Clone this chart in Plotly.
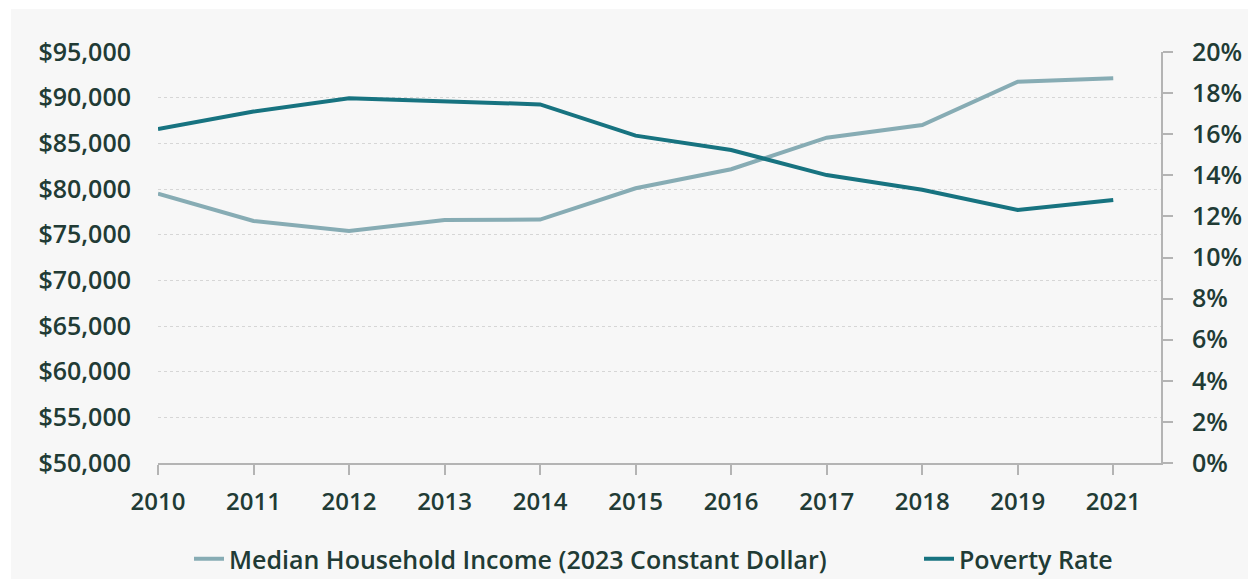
import plotly.graph_objects as go

years = ["2010", "2011", "2012", "2013", "2014", "2015", "2016", "2017", "2018", "2019", "2021"]
median_income = [79500, 76500, 75400, 76600, 76650, 80080, 82160, 85620, 87000, 91750, 92120]
poverty_rate = [16.25, 17.1, 17.75, 17.58, 17.45, 15.93, 15.23, 14.01, 13.3, 12.31, 12.8]

income_ticks = list(range(50000, 95001, 5000))
income_labels = [f"${v:,}" for v in income_ticks]
pov_ticks = list(range(0, 21, 2))
pov_labels = [f"{v}%" for v in pov_ticks]

TXT = "#213b35"
FONT = "Open Sans"

fig = go.Figure()
fig.add_trace(go.Scatter(
    x=years, y=median_income, mode="lines",
    name="Median Household Income (2023 Constant Dollar)",
    line=dict(color="#87acb4", width=4), yaxis="y", legend="legend"))
fig.add_trace(go.Scatter(
    x=years, y=poverty_rate, mode="lines",
    name="Poverty Rate",
    line=dict(color="#177380", width=4), yaxis="y2", legend="legend2"))

W, H = 1248, 579
L, R, T, B = 158, 87, 52, 116
pw, ph = W - L - R, H - T - B

legfont = dict(family=FONT, size=25, color=TXT, weight=600)
leg_y = (H - B - 536) / ph

fig.update_layout(
    template="none",
    width=W, height=H,
    margin=dict(l=L, r=R, t=T, b=B, pad=0, autoexpand=False),
    paper_bgcolor="white",
    plot_bgcolor="rgba(0,0,0,0)",
    font=dict(family=FONT, size=24, color=TXT, weight=600),
    showlegend=True,
    legend=dict(orientation="h", x=(189 - L) / pw, xanchor="left",
                y=leg_y, yanchor="top", bgcolor="rgba(0,0,0,0)", font=legfont),
    legend2=dict(orientation="h", x=(919 - L) / pw, xanchor="left",
                 y=leg_y, yanchor="top", bgcolor="rgba(0,0,0,0)", font=legfont),
    xaxis=dict(type="category", range=[0, 10.5], showgrid=False, automargin=False,
               showline=True, linecolor="#b4b4b4", linewidth=2, zeroline=False,
               ticks="outside", ticklen=10, tickcolor="#b4b4b4", tickwidth=1.5,
               ticklabelstandoff=6,
               tickfont=dict(family=FONT, size=24, color=TXT, weight=600)),
    yaxis=dict(range=[50000, 95000], tickvals=income_ticks, ticktext=income_labels,
               showgrid=True, gridcolor="#d6d6d6", griddash="dot", gridwidth=1,
               automargin=False,
               showline=False, zeroline=False, ticks="", ticklabelstandoff=26,
               tickfont=dict(family=FONT, size=25, color=TXT, weight=600)),
    yaxis2=dict(range=[0, 20], tickvals=pov_ticks, ticktext=pov_labels,
                overlaying="y", side="right", showgrid=False, zeroline=False,
                automargin=False,
                showline=True, linecolor="#b4b4b4", linewidth=2,
                ticks="outside", ticklen=10, tickcolor="#b4b4b4", tickwidth=1.5,
                ticklabelstandoff=14,
                tickfont=dict(family=FONT, size=25, color=TXT, weight=600)),
    shapes=[dict(type="rect", xref="paper", yref="paper", layer="below",
                 x0=(11 - L) / pw, x1=(W - L) / pw,
                 y0=(H - B - H) / ph, y1=(H - B - 9) / ph,
                 fillcolor="#f7f7f7", line=dict(width=0))],
)

fig.write_html("out.html", config={"displayModeBar": False},
               post_script="document.body.style.margin='0';document.body.style.overflow='hidden';")
